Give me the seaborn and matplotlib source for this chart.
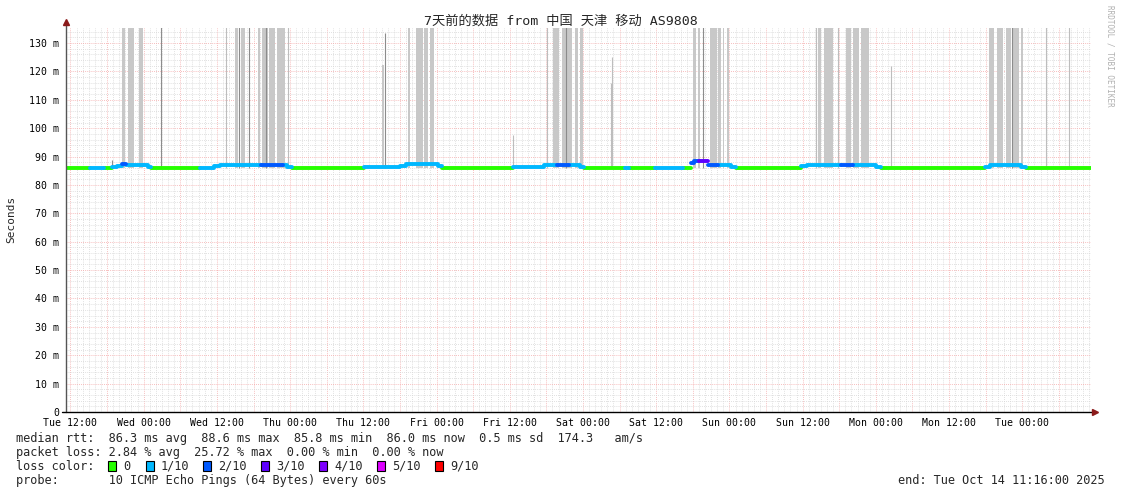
import pandas as pd
import matplotlib
matplotlib.use("Agg")
import matplotlib.pyplot as plt
import matplotlib.dates as mdates
from matplotlib.patches import Rectangle
from matplotlib.ticker import FuncFormatter, MultipleLocator
import seaborn as sns

# ---- data (hours from window start) ----
START = "2025-10-07 11:16"
SPAN_HOURS = 168

# median rtt segments: start hour, end hour, rtt (ms), loss level
seg_start = [0.0, 3.9, 6.3, 7.5, 8.3, 9.2, 9.8, 12.8, 13.4, 13.9, 21.9, 24.2, 25.3, 31.9, 35.6, 36.3,
             37.1, 48.8, 54.8, 55.7, 61.0, 61.7, 73.2, 78.3, 80.5, 82.5, 84.3, 84.9, 91.7, 92.3,
             96.6, 101.2, 102.4, 102.9, 103.8, 105.3, 106.8, 109.0, 109.8, 120.4, 121.5, 127.0,
             129.0, 132.8, 133.5, 150.7, 151.5, 156.6, 157.3]
seg_end = seg_start[1:] + [168.0]
seg_rtt = [86.0, 86.0, 86.0, 86.4, 86.8, 87.4, 87.2, 86.9, 86.4, 86.0, 86.0, 86.6, 87.2, 87.2, 87.0, 86.4,
           86.0, 86.4, 86.8, 87.3, 86.6, 86.0, 86.4, 87.1, 87.2, 87.1, 86.5, 86.0, 86.0, 86.0,
           86.0, 86.0, 87.8, 88.4, 88.6, 87.2, 87.1, 86.4, 86.0, 86.6, 87.1, 87.1,
           87.1, 86.4, 86.0, 86.5, 87.0, 86.4, 86.0]
seg_loss = [0, 1, 0, 1, 1, 2, 1, 1, 1, 0, 1, 1, 1, 2, 1, 1,
            0, 1, 1, 1, 1, 0, 1, 1, 2, 1, 1, 0, 1, 0,
            1, 0, 2, 2, 3, 2, 1, 1, 0, 1, 1, 2,
            1, 1, 0, 1, 1, 1, 0]

# smoke bands: start hour, end hour, top (ms)
smoke_start = [9.26, 10.08, 11.89, 27.62, 28.61, 31.39, 32.05, 33.2, 34.51, 51.72,
               55.98, 57.3, 58.61, 59.59, 79.75, 81.3, 83.4, 84.2,
               102.7, 103.52, 105.49, 106.8, 107.62, 108.28,
               123.2, 124.18, 127.79, 128.93, 130.25,
               151.23, 152.54, 154.02, 155.16, 156.48]
smoke_end = [9.75, 11.07, 12.54, 28.11, 29.26, 31.72, 33.03, 34.18, 35.82, 52.05,
             56.31, 58.44, 59.26, 60.25, 80.74, 83.0, 83.85, 84.67,
             103.2, 103.85, 106.64, 107.3, 107.87, 108.61,
             123.69, 125.66, 128.61, 129.92, 131.56,
             152.05, 153.52, 154.84, 156.15, 156.8]
smoke_top = [140, 140, 140, 140, 140, 140, 140, 140, 140, 122.3,
             140, 140, 140, 140, 140, 140, 140, 140,
             140, 140, 140, 140, 140, 140,
             140, 140, 140, 140, 140,
             140, 140, 140, 140, 140]

# single-sample smoke spikes
dark_hours = [7.46, 15.49, 28.28, 29.92, 32.8, 52.21, 81.9, 104.34, 155.0]
dark_tops = [88.8, 140, 140, 140, 140, 133.4, 140, 140, 140]
light_hours = [26.15, 36.31, 73.2, 78.77, 89.3, 89.43, 122.87, 126.5, 135.16, 160.57, 164.34]
light_tops = [140, 140, 97.6, 140, 116.0, 125.2, 140, 140, 122.0, 140, 140]

loss_levels = [0, 1, 2, 3, 4, 5, 9]
loss_labels = ["0", "1/10", "2/10", "3/10", "4/10", "5/10", "9/10"]
loss_colors = ["#26ff00", "#00b8ff", "#0059ff", "#5e00ff", "#7e00ff", "#dd00ff", "#ff0000"]

title = "7天前的数据 from 中国 天津 移动 AS9808"
rtt_line = "median rtt:  86.3 ms avg  88.6 ms max  85.8 ms min  86.0 ms now  0.5 ms sd  174.3   am/s"
loss_line = "packet loss: 2.84 % avg  25.72 % max  0.00 % min  0.00 % now"
probe_line = "probe:       10 ICMP Echo Pings (64 Bytes) every 60s"
end_line = "end: Tue Oct 14 11:16:00 2025"

W, H = 1121, 494
MONO = "DejaVu Sans Mono"


def fx(px):
    return px / W


def fy(py):
    return 1 - py / H


def main():
    sns.set_style("white")
    plt.rcParams["font.family"] = [MONO, "Noto Sans CJK SC"]

    t0 = mdates.date2num(pd.Timestamp(START))

    rows = []
    for i, (a, b, v, l) in enumerate(zip(seg_start, seg_end, seg_rtt, seg_loss)):
        rows.append({"t": t0 + a / 24, "rtt": v, "loss": str(l), "seg": i})
        rows.append({"t": t0 + b / 24, "rtt": v, "loss": str(l), "seg": i})
    med = pd.DataFrame(rows)
    palette = {str(k): c for k, c in zip(loss_levels, loss_colors)}

    fig = plt.figure(figsize=(W / 100, H / 100), dpi=100)
    ax = fig.add_axes([fx(66), fy(412), fx(1091 - 66), (412 - 28) / H])
    ax.set_facecolor("white")

    # smoke
    s0 = [t0 + h / 24 for h in smoke_start]
    widths = [(b - a) / 24 for a, b in zip(smoke_start, smoke_end)]
    heights = [top - 86.0 for top in smoke_top]
    ax.bar(s0, heights, width=widths, bottom=86.0, align="edge",
           color="#c8c8c8", linewidth=0, zorder=2)
    ax.vlines([t0 + h / 24 for h in light_hours], 86.0, light_tops,
              color="#bdbdbd", lw=0.8, zorder=2)
    ax.vlines([t0 + h / 24 for h in dark_hours], 86.0, dark_tops,
              color="#8c8c8c", lw=0.8, zorder=2)

    # median rtt coloured by loss
    sns.lineplot(data=med, x="t", y="rtt", hue="loss", units="seg", estimator=None,
                 palette=palette, legend=False, lw=2.8, ax=ax, zorder=3)

    ax.set_xlim(t0, t0 + SPAN_HOURS / 24)
    ax.set_ylim(0, 135.3)
    ax.set_xlabel("")
    ax.set_ylabel("")

    # grids
    ax.xaxis.set_major_locator(mdates.HourLocator(byhour=[0, 6, 12, 18]))
    ax.xaxis.set_minor_locator(mdates.HourLocator())

    def xfmt(v, pos):
        d = mdates.num2date(v)
        return d.strftime("%a %H:%M") if d.hour in (0, 12) else ""
    ax.xaxis.set_major_formatter(FuncFormatter(xfmt))
    ax.yaxis.set_major_locator(MultipleLocator(10))
    ax.yaxis.set_minor_locator(MultipleLocator(2))
    ax.yaxis.set_major_formatter(FuncFormatter(lambda v, p: "0" if v == 0 else f"{v:.0f} m"))

    ax.grid(which="minor", color="#d6d6d6", lw=0.6, ls=(0, (1, 1.5)), zorder=0)
    ax.grid(which="major", color="#f5a8a8", lw=0.6, ls=(0, (1, 1.5)), zorder=0)
    ax.set_axisbelow(True)

    ax.tick_params(axis="x", which="major", length=2, color="#f09090", pad=2,
                   labelsize=7.1, labelcolor="black")
    ax.tick_params(axis="x", which="minor", length=0)
    ax.tick_params(axis="y", which="major", length=2, color="#777777", pad=3,
                   labelsize=7.1, labelcolor="black")
    ax.tick_params(axis="y", which="minor", length=1, color="#aaaaaa")
    for lab in ax.get_xticklabels() + ax.get_yticklabels():
        lab.set_family(MONO)

    for side in ["top", "right", "left", "bottom"]:
        ax.spines[side].set_visible(False)
    # axes with arrows
    ax.plot([0, 0], [0, 1.015], transform=ax.transAxes, color="#555555", lw=1,
            clip_on=False, zorder=5)
    ax.plot([-0.004, 1.004], [0, 0], transform=ax.transAxes, color="black", lw=1,
            clip_on=False, zorder=5)
    ax.plot([0], [1.015], marker="^", ms=4, color="#8b1a1a", transform=ax.transAxes,
            clip_on=False, zorder=6)
    ax.plot([1.004], [0], marker=">", ms=4, color="#8b1a1a", transform=ax.transAxes,
            clip_on=False, zorder=6)

    # texts
    fig.text(fx(561), fy(21), title, ha="center", va="center", fontsize=9.5,
             family=[MONO, "Noto Sans CJK SC"])
    fig.text(fx(11), fy(219), "Seconds", rotation=90, ha="center", va="center",
             fontsize=8, family=MONO)
    fig.text(fx(1110), fy(5), "RRDTOOL / TOBI OETIKER", rotation=270, ha="center",
             va="top", fontsize=5.5, color="#b0b0b0", family=MONO)

    fs = 8.55
    fig.text(fx(16), fy(438), rtt_line, va="center", fontsize=fs, family=MONO)
    fig.text(fx(16), fy(452), loss_line, va="center", fontsize=fs, family=MONO)
    fig.text(fx(16), fy(466), "loss color:", va="center", fontsize=fs, family=MONO)
    fig.text(fx(16), fy(480), probe_line, va="center", fontsize=fs, family=MONO)
    fig.text(fx(1105), fy(480), end_line, va="center", ha="right", fontsize=fs, family=MONO)

    box_x = [108, 146, 203, 261, 319, 377, 435]
    for bx, lab, col in zip(box_x, loss_labels, loss_colors):
        fig.patches.append(Rectangle((fx(bx), fy(471)), 8 / W, 10 / H, transform=fig.transFigure,
                                     facecolor=col, edgecolor="black", lw=0.8))
        fig.text(fx(bx + 15), fy(466), lab, va="center", fontsize=fs, family=MONO)

    fig.savefig("out.png", dpi=100)


if __name__ == "__main__":
    main()
